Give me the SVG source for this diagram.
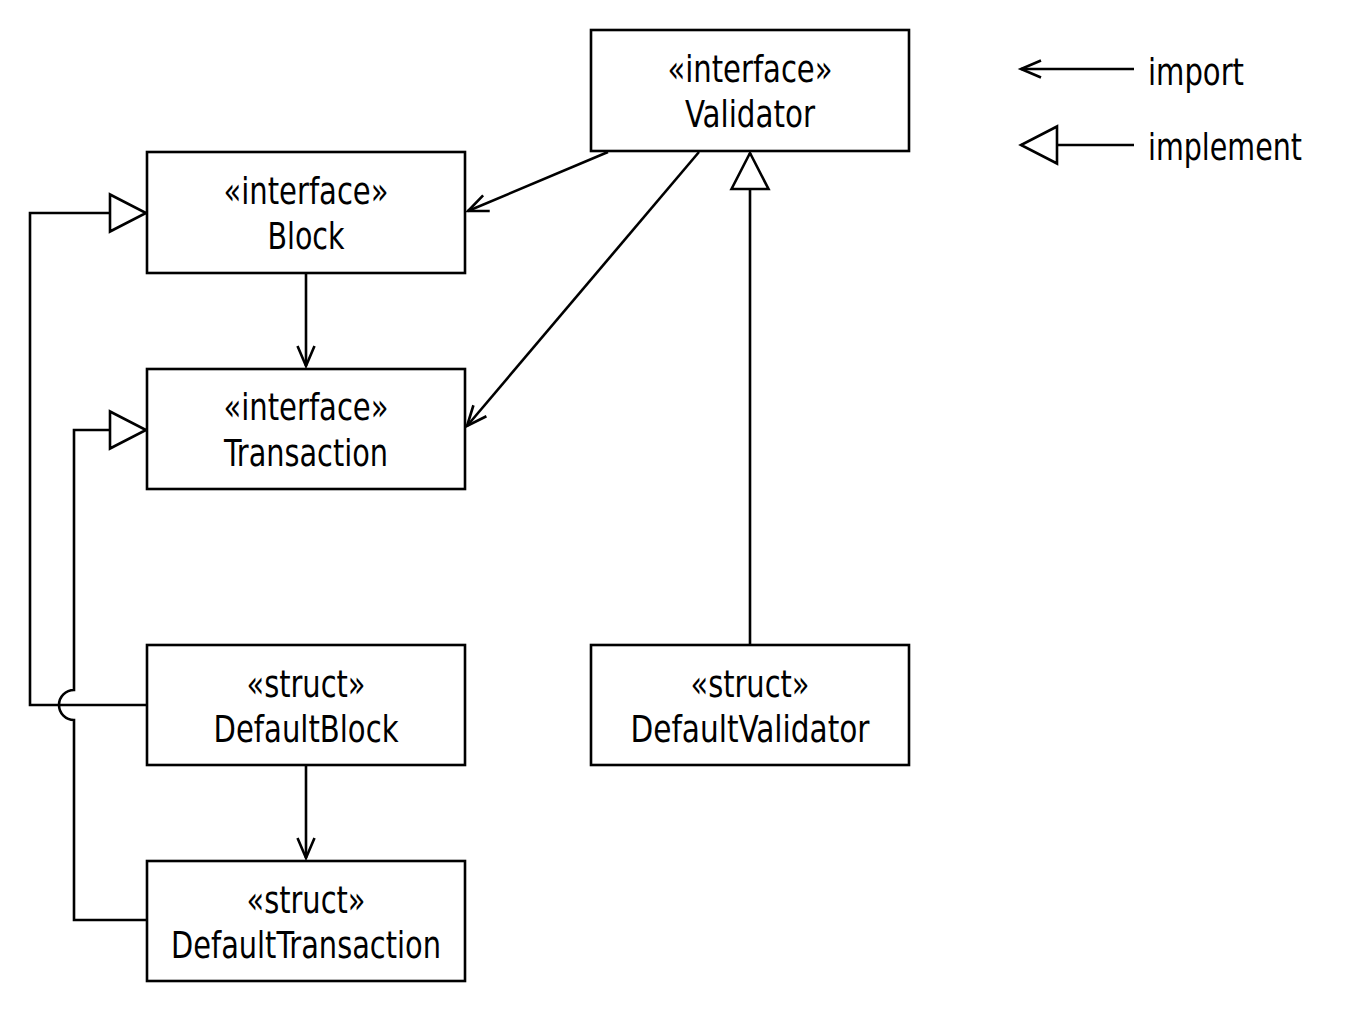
<svg xmlns="http://www.w3.org/2000/svg" width="1347" height="1013" viewBox="0 0 1347 1013">
<style>
.box{fill:#fff;stroke:#000;stroke-width:2.6}
.ln{fill:none;stroke:#000;stroke-width:2.6}
.imp{marker-end:url(#open)}
.impl{marker-end:url(#tri)}
text{font-family:"Liberation Sans Narrow","DejaVu Sans Condensed","Liberation Sans",sans-serif;font-size:38px;fill:#000;text-anchor:middle}
.lg{text-anchor:start}
</style>
<defs>
<marker id="open" markerUnits="userSpaceOnUse" markerWidth="30" markerHeight="30" viewBox="-25 -15 30 30" refX="0" refY="0" orient="auto" overflow="visible">
<path d="M -20 -8.5 L 0 0 L -20 8.5" fill="none" stroke="#000" stroke-width="2.6"/>
</marker>
<marker id="tri" markerUnits="userSpaceOnUse" markerWidth="44" markerHeight="44" viewBox="-40 -22 44 44" refX="0" refY="0" orient="auto" overflow="visible">
<path d="M -36 -18.5 L 0 0 L -36 18.5 Z" fill="#fff" stroke="#000" stroke-width="2.6"/>
</marker>
</defs>
<rect width="1347" height="1013" fill="#fff"/>
<g id="connectors">
<path class="ln imp" d="M 306 273 L 306 366"/>
<path class="ln imp" d="M 608 152 L 468 211"/>
<path class="ln imp" d="M 699 152 L 467 426"/>
<path class="ln impl" d="M 750 645 L 750 153"/>
<path class="ln impl" d="M 147 705 L 30 705 L 30 213 L 146 213"/>
<path class="ln impl" d="M 147 920 L 74 920 L 74 720 A 15 15 0 0 1 74 690 L 74 430 L 146 430"/>
<path class="ln imp" d="M 306 765 L 306 858"/>
</g>
<g id="Validator">
<rect class="box" x="591" y="30" width="318" height="121"/>
<text x="750" y="82" textLength="165" lengthAdjust="spacingAndGlyphs">«interface»</text>
<text x="750" y="127" textLength="130" lengthAdjust="spacingAndGlyphs">Validator</text>
</g>
<g id="Block">
<rect class="box" x="147" y="152" width="318" height="121"/>
<text x="306" y="204" textLength="165" lengthAdjust="spacingAndGlyphs">«interface»</text>
<text x="306" y="249" textLength="77" lengthAdjust="spacingAndGlyphs">Block</text>
</g>
<g id="Transaction">
<rect class="box" x="147" y="369" width="318" height="120"/>
<text x="306" y="420" textLength="165" lengthAdjust="spacingAndGlyphs">«interface»</text>
<text x="306" y="466" textLength="164" lengthAdjust="spacingAndGlyphs">Transaction</text>
</g>
<g id="DefaultBlock">
<rect class="box" x="147" y="645" width="318" height="120"/>
<text x="306" y="697" textLength="119" lengthAdjust="spacingAndGlyphs">«struct»</text>
<text x="306" y="742" textLength="185" lengthAdjust="spacingAndGlyphs">DefaultBlock</text>
</g>
<g id="DefaultValidator">
<rect class="box" x="591" y="645" width="318" height="120"/>
<text x="750" y="697" textLength="119" lengthAdjust="spacingAndGlyphs">«struct»</text>
<text x="750" y="742" textLength="239" lengthAdjust="spacingAndGlyphs">DefaultValidator</text>
</g>
<g id="DefaultTransaction">
<rect class="box" x="147" y="861" width="318" height="120"/>
<text x="306" y="913" textLength="119" lengthAdjust="spacingAndGlyphs">«struct»</text>
<text x="306" y="958" textLength="270" lengthAdjust="spacingAndGlyphs">DefaultTransaction</text>
</g>
<g id="legend">
<path class="ln imp" d="M 1134 69 L 1021 69"/>
<text class="lg" x="1148" y="85" textLength="96" lengthAdjust="spacingAndGlyphs">import</text>
<path class="ln impl" d="M 1134 145 L 1021 145"/>
<text class="lg" x="1148" y="160" textLength="154" lengthAdjust="spacingAndGlyphs">implement</text>
</g>
</svg>
